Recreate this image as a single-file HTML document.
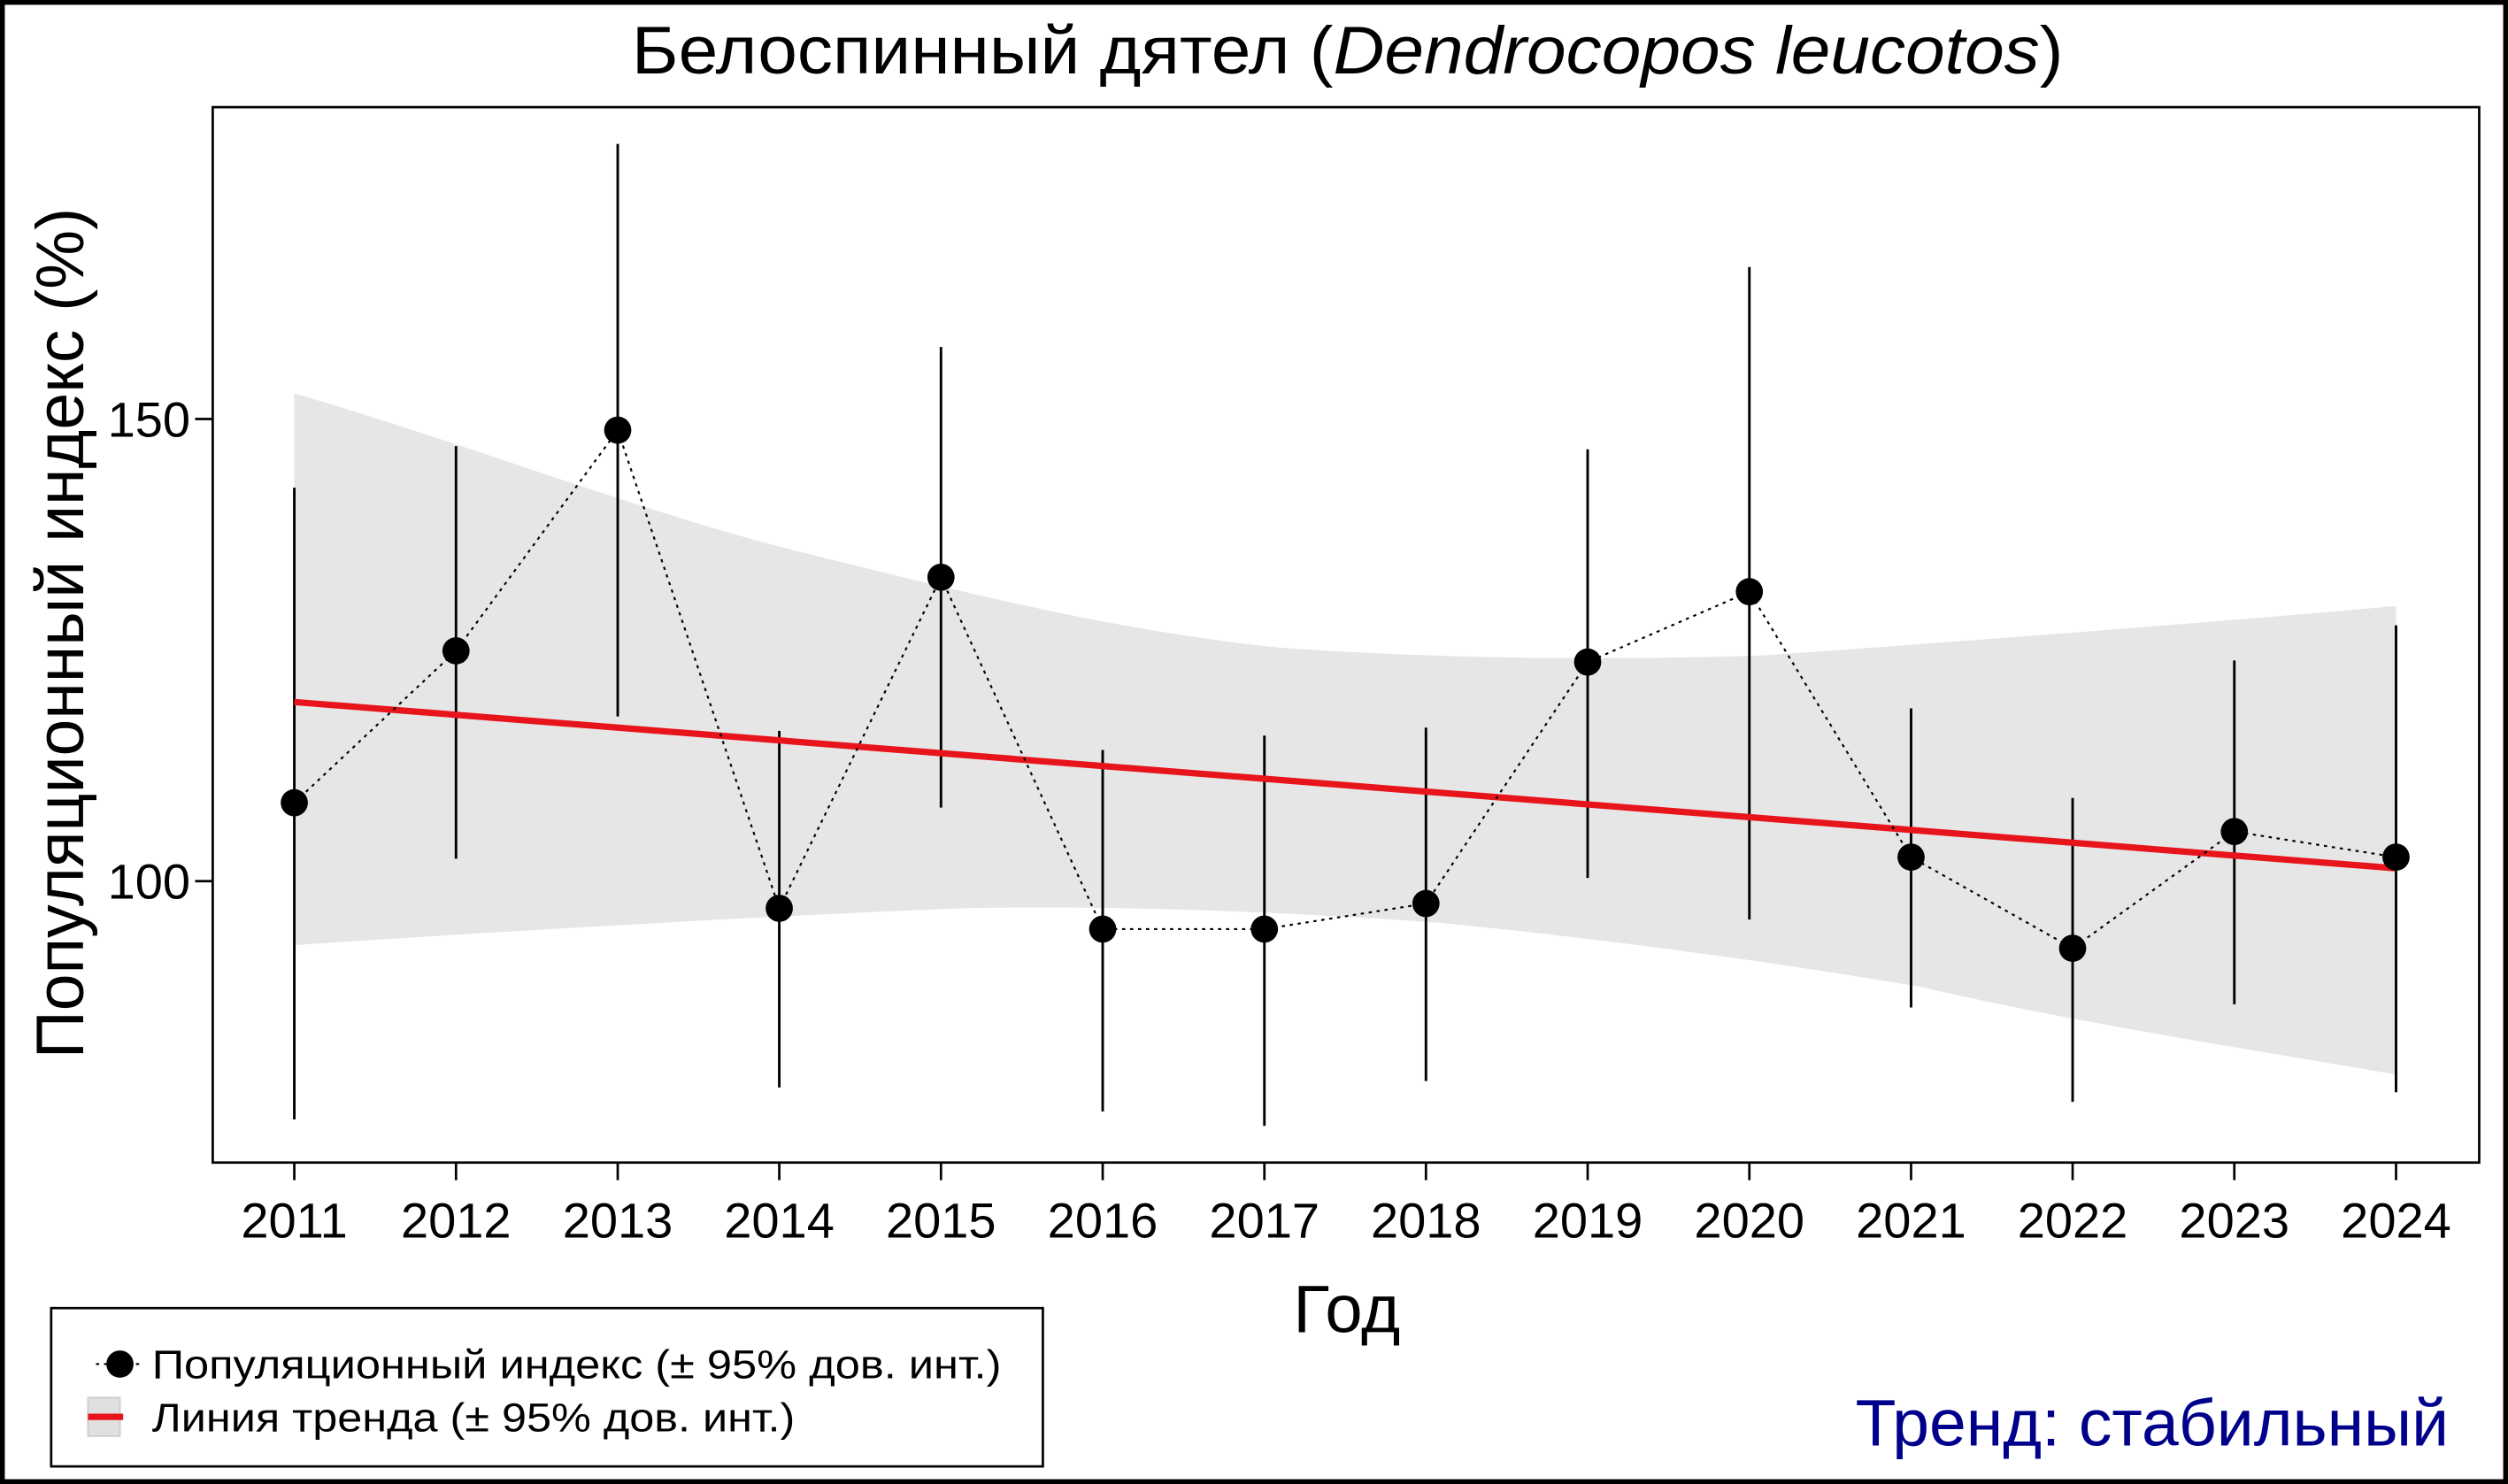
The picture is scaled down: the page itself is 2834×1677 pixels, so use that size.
<!DOCTYPE html>
<html><head><meta charset="utf-8"><style>html,body{margin:0;padding:0;background:#fff}svg{display:block}</style></head>
<body>
<svg width="2834" height="1677" viewBox="0 0 1568 928" preserveAspectRatio="none" xmlns="http://www.w3.org/2000/svg" font-family="'Liberation Sans', sans-serif">
<rect x="0" y="0" width="1568" height="928" fill="#fff"/>
<rect x="1.5" y="1.5" width="1565" height="925" fill="none" stroke="#000" stroke-width="3"/>
<path d="M184,246 C300,280 400,320 500,345 C600,370 700,395 800,405 C900,412 1000,413 1100,410 C1200,403 1350,392 1498,379 L1498,672 C1400,655 1300,640 1200,617 C1100,600 1000,587 900,577 C800,570 700,566 600,568 C500,572 350,580 184,591 Z" fill="#e6e6e6"/>
<rect x="133" y="67" width="1417" height="660" fill="none" stroke="#000" stroke-width="1.5"/>
<g stroke="#000" stroke-width="1.5">
<line x1="122" y1="262" x2="133" y2="262"/><line x1="122" y1="551" x2="133" y2="551"/>
</g>
<g font-size="31" text-anchor="end"><text x="119" y="273">150</text><text x="119" y="562">100</text></g>
<g stroke="#000" stroke-width="1.5">
<line x1="184" y1="727" x2="184" y2="738"/><line x1="285.1" y1="727" x2="285.1" y2="738"/><line x1="386.2" y1="727" x2="386.2" y2="738"/><line x1="487.2" y1="727" x2="487.2" y2="738"/><line x1="588.3" y1="727" x2="588.3" y2="738"/><line x1="689.4" y1="727" x2="689.4" y2="738"/><line x1="790.5" y1="727" x2="790.5" y2="738"/><line x1="891.5" y1="727" x2="891.5" y2="738"/><line x1="992.6" y1="727" x2="992.6" y2="738"/><line x1="1093.7" y1="727" x2="1093.7" y2="738"/><line x1="1194.8" y1="727" x2="1194.8" y2="738"/><line x1="1295.8" y1="727" x2="1295.8" y2="738"/><line x1="1396.9" y1="727" x2="1396.9" y2="738"/><line x1="1498" y1="727" x2="1498" y2="738"/>
</g>
<g font-size="31" text-anchor="middle">
<text x="184" y="774">2011</text><text x="285.1" y="774">2012</text><text x="386.2" y="774">2013</text><text x="487.2" y="774">2014</text><text x="588.3" y="774">2015</text><text x="689.4" y="774">2016</text><text x="790.5" y="774">2017</text><text x="891.5" y="774">2018</text><text x="992.6" y="774">2019</text><text x="1093.7" y="774">2020</text><text x="1194.8" y="774">2021</text><text x="1295.8" y="774">2022</text><text x="1396.9" y="774">2023</text><text x="1498" y="774">2024</text>
</g>
<g stroke="#000" stroke-width="1.6">
<line x1="184" y1="305" x2="184" y2="700"/><line x1="285.1" y1="279" x2="285.1" y2="537"/><line x1="386.2" y1="90" x2="386.2" y2="448"/><line x1="487.2" y1="457" x2="487.2" y2="680"/><line x1="588.3" y1="217" x2="588.3" y2="505"/><line x1="689.4" y1="469" x2="689.4" y2="695"/><line x1="790.5" y1="460" x2="790.5" y2="704"/><line x1="891.5" y1="455" x2="891.5" y2="676"/><line x1="992.6" y1="281" x2="992.6" y2="549"/><line x1="1093.7" y1="167" x2="1093.7" y2="575"/><line x1="1194.8" y1="443" x2="1194.8" y2="630"/><line x1="1295.8" y1="499" x2="1295.8" y2="689"/><line x1="1396.9" y1="413" x2="1396.9" y2="628"/><line x1="1498" y1="391" x2="1498" y2="683"/>
</g>
<line x1="184" y1="439" x2="1498" y2="543" stroke="#e8141b" stroke-width="4"/>
<polyline points="184,502 285.1,407 386.2,269 487.2,568 588.3,361 689.4,581 790.5,581 891.5,565 992.6,414 1093.7,370 1194.8,536 1295.8,593 1396.9,520 1498,536" fill="none" stroke="#000" stroke-width="1.2" stroke-dasharray="2,3"/>
<g fill="#000">
<circle cx="184" cy="502" r="8.5"/><circle cx="285.1" cy="407" r="8.5"/><circle cx="386.2" cy="269" r="8.5"/><circle cx="487.2" cy="568" r="8.5"/><circle cx="588.3" cy="361" r="8.5"/><circle cx="689.4" cy="581" r="8.5"/><circle cx="790.5" cy="581" r="8.5"/><circle cx="891.5" cy="565" r="8.5"/><circle cx="992.6" cy="414" r="8.5"/><circle cx="1093.7" cy="370" r="8.5"/><circle cx="1194.8" cy="536" r="8.5"/><circle cx="1295.8" cy="593" r="8.5"/><circle cx="1396.9" cy="520" r="8.5"/><circle cx="1498" cy="536" r="8.5"/>
</g>
<text x="395" y="46" font-size="42" textLength="895" lengthAdjust="spacingAndGlyphs">Белоспинный дятел (<tspan font-style="italic">Dendrocopos leucotos</tspan>)</text>
<text x="842" y="833" font-size="42" text-anchor="middle">Год</text>
<text transform="translate(52,396) rotate(-90)" font-size="42" text-anchor="middle" textLength="532" lengthAdjust="spacingAndGlyphs">Популяционный индекс (%)</text>
<rect x="32" y="818" width="620" height="99" fill="#fff" stroke="#000" stroke-width="1.5"/>
<line x1="60" y1="853" x2="90" y2="853" stroke="#000" stroke-width="1.2" stroke-dasharray="2,3"/>
<circle cx="75" cy="853" r="8.5" fill="#000"/>
<rect x="55" y="874" width="20" height="24" fill="#e0e0e0" stroke="#ccc"/>
<line x1="55" y1="886" x2="77" y2="886" stroke="#e8141b" stroke-width="4"/>
<text x="95" y="862" font-size="25" textLength="531" lengthAdjust="spacingAndGlyphs">Популяционный индекс (± 95% дов. инт.)</text>
<text x="95" y="895" font-size="25" textLength="402" lengthAdjust="spacingAndGlyphs">Линия тренда (± 95% дов. инт.)</text>
<text x="1531" y="904" font-size="41" text-anchor="end" fill="#00008b" textLength="371" lengthAdjust="spacingAndGlyphs">Тренд: стабильный</text>
</svg>
</body></html>
